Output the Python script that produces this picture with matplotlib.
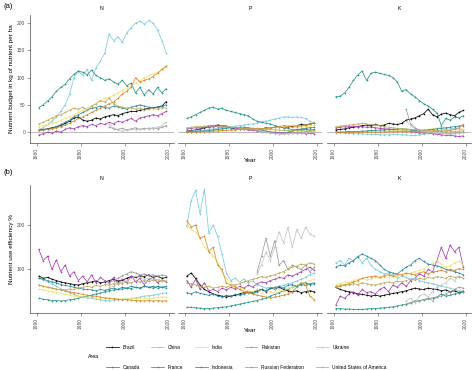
import numpy as np
import matplotlib
matplotlib.use("Agg")
import matplotlib.pyplot as plt
from matplotlib.lines import Line2D

plt.rcParams["font.family"] = ["Liberation Sans", "DejaVu Sans"]

# values every second year (1961, 1963, ... 2019)
years = np.arange(1961, 2021, 2)

countries = ["Brazil", "Canada", "China", "France", "India", "Indonesia",
             "Pakistan", "Russian Federation", "Ukraine", "United States of America"]
colors = {
    "Brazil": "#000000",
    "Canada": "#a83db0",
    "China": "#7ccadb",
    "France": "#23968a",
    "India": "#efe26b",
    "Indonesia": "#2b8aa0",
    "Pakistan": "#d9892b",
    "Russian Federation": "#9a9a9a",
    "Ukraine": "#c4c4c4",
    "United States of America": "#bfa95a",
}

# (a) nutrient budget, kg nutrient per ha  (Russia / Ukraine start 1993)
budget_n = {
    "Brazil": [4, 5, 6, 8, 10, 12, 16, 20, 26, 28, 22, 20, 22, 26, 24, 28, 30, 32, 30, 34, 36, 38, 38, 40, 42, 44, 45, 46, 48, 56],
    "Canada": [-5, -3, 0, -2, 2, 0, 5, 8, 6, 10, 12, 10, 14, 12, 16, 14, 18, 15, 20, 18, 22, 25, 20, 26, 28, 30, 32, 30, 34, 38],
    "China": [5, 8, 14, 20, 28, 38, 50, 70, 100, 112, 105, 115, 95, 118, 130, 145, 180, 168, 175, 165, 182, 192, 200, 204, 198, 205, 200, 188, 168, 145],
    "France": [45, 50, 57, 65, 75, 82, 88, 98, 106, 112, 110, 105, 114, 104, 100, 95, 98, 92, 88, 95, 85, 90, 72, 82, 68, 78, 70, 82, 72, 80],
    "India": [10, 12, 14, 16, 18, 22, 25, 28, 32, 36, 40, 45, 48, 52, 58, 62, 64, 68, 72, 76, 80, 85, 90, 95, 100, 104, 106, 110, 115, 120],
    "Indonesia": [3, 4, 5, 7, 10, 14, 18, 22, 28, 32, 36, 40, 44, 45, 48, 45, 44, 48, 46, 44, 42, 46, 48, 50, 48, 46, 44, 46, 48, 50],
    "Pakistan": [3, 4, 5, 6, 8, 10, 13, 16, 20, 25, 28, 32, 36, 40, 44, 48, 52, 55, 62, 70, 75, 82, 100, 92, 95, 98, 102, 108, 115, 122],
    "Russian Federation": [10, 6, 5, 7, 4, 6, 8, 5, 7, 6, 8, 6, 9, 12],
    "Ukraine": [15, 8, 4, 2, 3, 5, 4, 6, 5, 8, 6, 9, 12, 18],
    "United States of America": [15, 18, 22, 26, 30, 32, 36, 40, 44, 42, 46, 40, 48, 52, 58, 55, 62, 52, 48, 46, 44, 45, 42, 44, 40, 42, 44, 42, 45, 44],
}
budget_p = {
    "Brazil": [2, 3, 4, 6, 8, 10, 12, 13, 12, 11, 8, 6, 5, 6, 5, 6, 5, 6, 8, 7, 9, 10, 8, 10, 11, 12, 14, 13, 15, 17],
    "Canada": [6, 7, 8, 8, 9, 9, 10, 10, 9, 10, 8, 7, 6, 5, 4, 3, 2, 2, 1, 0, 0, -1, -1, -2, -1, -2, -2, -3, -2, -3],
    "China": [2, 2, 3, 3, 4, 5, 6, 7, 8, 9, 10, 11, 12, 13, 14, 15, 17, 19, 20, 22, 24, 26, 28, 28, 27, 28, 27, 25, 20, 16],
    "France": [25, 28, 32, 36, 40, 44, 46, 42, 44, 40, 38, 36, 34, 32, 30, 24, 20, 18, 16, 15, 12, 10, 8, 7, 4, 5, 4, 5, 4, 5],
    "India": [0, 0, 1, 1, 1, 2, 2, 2, 3, 3, 4, 4, 5, 5, 6, 6, 5, 6, 7, 7, 8, 9, 10, 11, 13, 12, 10, 10, 11, 13],
    "Indonesia": [1, 1, 1, 2, 2, 3, 4, 5, 6, 7, 8, 8, 9, 9, 8, 7, 6, 4, 2, 0, -2, -3, -2, 0, 2, 4, 6, 7, 8, 9],
    "Pakistan": [0, 0, 0, 1, 1, 1, 2, 2, 3, 3, 4, 4, 5, 5, 6, 6, 7, 6, 7, 8, 9, 10, 12, 11, 9, 10, 12, 13, 15, 16],
    "Russian Federation": [3, 1, 0, -1, -2, -2, -1, -2, -1, 0, 0, 1, 1, 2],
    "Ukraine": [5, 2, 0, -2, -3, -3, -4, -3, -2, -3, -2, -1, 0, 1],
    "United States of America": [8, 9, 10, 10, 11, 12, 12, 11, 12, 11, 9, 8, 8, 7, 7, 6, 6, 6, 5, 5, 4, 4, 3, 3, 2, 3, 3, 2, 3, 3],
}
budget_k = {
    "Brazil": [4, 5, 6, 8, 9, 10, 12, 13, 12, 14, 12, 13, 16, 15, 14, 16, 22, 24, 26, 30, 34, 42, 32, 28, 33, 35, 32, 30, 36, 40],
    "Canada": [8, 9, 10, 10, 11, 10, 10, 9, 9, 8, 7, 6, 6, 5, 4, 3, 2, 1, 0, -1, -2, -2, -3, -4, -5, -6, -6, -7, -8, -7],
    "China": [-1, -1, -2, -2, -3, -3, -3, -4, -4, -4, -5, -5, -5, -4, -4, -5, -5, -6, -6, -5, -4, -2, 0, 2, 4, 5, 6, 7, 5, 4],
    "France": [65, 66, 72, 82, 95, 105, 112, 95, 108, 110, 108, 106, 104, 100, 92, 75, 78, 70, 65, 58, 52, 48, 42, 35, 12, 25, 22, 28, 26, 30],
    "India": [0, 0, 0, 1, 1, 1, 1, 2, 2, 2, 2, 2, 3, 3, 3, 3, 2, 3, 3, 4, 4, 5, 6, 7, 9, 6, 4, 5, 5, 6],
    "Indonesia": [0, 0, 0, 1, 1, 1, 2, 2, 3, 3, 4, 4, 5, 5, 6, 6, 5, 4, 3, 2, 3, 4, 5, 6, 7, 8, 9, 10, 11, 12],
    "Pakistan": [0, 0, 0, 0, 0, 0, 0, 0, 0, 0, 0, 0, 1, 1, 1, 1, 1, 1, 1, 1, 1, 1, 2, 2, 2, 2, 3, 5, 8, 14],
    "Russian Federation": [42, 15, 8, 4, 2, 0, -1, -2, -3, -2, -3, -2, -1, 0],
    "Ukraine": [20, 12, 6, 3, 2, 1, 0, -1, -2, -3, -4, -3, -2, -1],
    "United States of America": [10, 11, 12, 13, 14, 15, 16, 15, 14, 13, 12, 10, 9, 8, 7, 6, 6, 5, 5, 4, 4, 3, 3, 2, 2, 2, 2, 1, 2, 2],
}

# (b) nutrient use efficiency, %
nue_n = {
    "Brazil": [85, 80, 82, 78, 75, 72, 70, 68, 66, 65, 68, 70, 72, 74, 70, 72, 75, 78, 74, 76, 80, 84, 82, 86, 84, 88, 82, 85, 80, 82],
    "Canada": [145, 120, 130, 100, 122, 95, 110, 85, 95, 75, 85, 72, 88, 70, 82, 75, 70, 82, 68, 78, 70, 86, 72, 80, 66, 78, 82, 70, 76, 72],
    "China": [80, 76, 72, 68, 62, 56, 52, 48, 44, 40, 38, 36, 35, 33, 32, 30, 30, 31, 32, 33, 34, 35, 36, 38, 40, 41, 42, 44, 46, 48],
    "France": [35, 33, 32, 30, 30, 29, 30, 32, 33, 35, 38, 40, 42, 45, 47, 50, 52, 54, 55, 56, 58, 57, 60, 58, 62, 60, 58, 62, 60, 58],
    "India": [55, 54, 52, 50, 48, 46, 44, 42, 40, 40, 38, 38, 37, 36, 36, 35, 34, 35, 34, 33, 34, 35, 34, 36, 35, 34, 36, 37, 38, 38],
    "Indonesia": [80, 78, 75, 72, 70, 66, 64, 62, 60, 58, 56, 55, 54, 52, 55, 53, 56, 58, 55, 60, 58, 62, 60, 58, 62, 60, 62, 58, 60, 62],
    "Pakistan": [65, 62, 60, 58, 56, 54, 52, 50, 48, 46, 44, 42, 40, 40, 38, 36, 35, 34, 33, 32, 32, 31, 30, 30, 29, 30, 29, 30, 29, 30],
    "Russian Federation": [70, 75, 80, 86, 90, 95, 92, 88, 90, 86, 88, 85, 88, 86],
    "Ukraine": [60, 62, 68, 72, 75, 80, 85, 82, 78, 80, 76, 78, 75, 74],
    "United States of America": [65, 62, 60, 58, 55, 55, 54, 56, 55, 58, 60, 62, 60, 64, 62, 66, 65, 68, 70, 68, 72, 70, 74, 72, 75, 73, 76, 74, 75, 74],
}
nue_p = {
    "Brazil": [85, 92, 80, 65, 55, 50, 45, 42, 40, 38, 40, 42, 45, 48, 50, 48, 52, 55, 50, 58, 56, 60, 55, 52, 50, 52, 48, 50, 52, 50],
    "Canada": [75, 60, 78, 55, 70, 52, 55, 50, 58, 54, 60, 56, 62, 58, 65, 60, 68, 72, 70, 75, 78, 82, 80, 88, 85, 90, 95, 100, 105, 98],
    "China": [197, 255, 278, 225, 280, 182, 200, 175, 135, 92, 75, 80, 72, 78, 70, 74, 66, 62, 58, 60, 56, 62, 64, 68, 70, 74, 78, 82, 88, 92],
    "France": [15, 15, 14, 13, 12, 12, 13, 14, 15, 16, 18, 20, 22, 24, 26, 28, 30, 33, 36, 40, 44, 48, 52, 56, 60, 62, 66, 64, 68, 70],
    "India": [200, 190, 185, 170, 150, 140, 130, 115, 95, 80, 70, 62, 58, 55, 52, 50, 55, 48, 52, 50, 48, 55, 52, 58, 60, 65, 70, 72, 75, 78],
    "Indonesia": [48, 45, 50, 46, 44, 42, 45, 40, 38, 42, 40, 44, 42, 45, 48, 46, 50, 55, 52, 58, 60, 62, 58, 64, 66, 62, 68, 70, 66, 68],
    "Pakistan": [210, 195, 200, 170, 175, 140, 150, 110, 100, 70, 65, 60, 55, 50, 48, 45, 42, 40, 38, 36, 38, 40, 42, 45, 50, 60, 70, 65, 40, 32],
    "Russian Federation": [95, 130, 170, 130, 165, 110, 120, 100, 110, 105, 100, 110, 95, 105],
    "Ukraine": [90, 110, 140, 120, 150, 185, 160, 195, 150, 190, 170, 195, 180, 175],
    "United States of America": [70, 68, 65, 62, 60, 62, 58, 60, 62, 60, 64, 66, 68, 72, 75, 78, 80, 84, 82, 86, 88, 92, 95, 100, 105, 108, 112, 110, 115, 112],
}
nue_k = {
    "Brazil": [60, 55, 52, 50, 48, 45, 44, 42, 40, 42, 40, 42, 44, 46, 48, 50, 52, 55, 58, 56, 55, 58, 56, 55, 52, 54, 50, 52, 48, 50],
    "Canada": [20, 40, 35, 45, 50, 42, 55, 48, 50, 45, 55, 60, 50, 65, 60, 70, 62, 75, 80, 90, 85, 100, 95, 120, 150, 125, 155, 140, 150, 105],
    "China": [115, 120, 110, 125, 120, 130, 115, 125, 110, 100, 95, 90, 92, 88, 80, 85, 82, 78, 80, 75, 72, 70, 68, 65, 62, 60, 58, 55, 52, 50],
    "France": [12, 12, 11, 11, 10, 10, 10, 11, 12, 12, 13, 14, 15, 16, 18, 20, 22, 25, 28, 30, 32, 34, 36, 38, 45, 40, 42, 45, 48, 52],
    "India": [66, 68, 72, 70, 75, 78, 80, 76, 78, 82, 80, 84, 82, 86, 85, 88, 90, 92, 95, 98, 100, 110, 115, 120, 112, 105, 108, 115, 118, 110],
    "Indonesia": [105, 110, 108, 115, 120, 128, 135, 130, 125, 120, 110, 100, 95, 92, 90, 98, 105, 110, 120, 125, 118, 112, 110, 108, 105, 100, 98, 95, 92, 88],
    "Pakistan": [60, 62, 65, 68, 72, 75, 80, 82, 84, 85, 82, 86, 88, 85, 90, 88, 92, 90, 88, 92, 95, 90, 94, 96, 98, 95, 100, 98, 102, 100],
    "Russian Federation": [20, 25, 30, 28, 32, 35, 30, 38, 40, 45, 50, 55, 60, 58],
    "Ukraine": [30, 35, 25, 40, 45, 38, 50, 60, 65, 70, 80, 75, 85, 80],
    "United States of America": [62, 64, 66, 65, 68, 66, 70, 68, 66, 65, 68, 70, 72, 70, 74, 72, 75, 78, 76, 80, 78, 82, 80, 84, 82, 80, 85, 82, 84, 80],
}

nutrients = ["N", "P", "K"]
x_ticks = [1960, 1980, 2000, 2020]
grey = "#4d4d4d"

W, H = 474, 370
fig = plt.figure(figsize=(W / 100, H / 100), dpi=100)

col_left = [30, 178, 327]
col_w = 144


def draw_row(datasets, top, bottom, ylim, yticks, ylabel):
    for i, (nut, data) in enumerate(zip(nutrients, datasets)):
        ax = fig.add_axes([col_left[i] / W, 1 - bottom / H, col_w / W, (bottom - top) / H])
        for c in countries:
            v = data[c]
            ax.plot(years[-len(v):], v, color=colors[c], lw=0.55,
                    marker="o", ms=1.2, mew=0)
        ax.set_xlim(1957, 2022.5)
        ax.set_ylim(*ylim)
        ax.set_xticks(x_ticks)
        ax.set_xticklabels([str(t) for t in x_ticks], rotation=90)
        ax.set_yticks(yticks)
        ax.set_title(nut, fontsize=3.8, pad=3.5)
        for s in ["top", "right"]:
            ax.spines[s].set_visible(False)
        ax.spines["bottom"].set_color(grey)
        ax.spines["bottom"].set_linewidth(0.5)
        ax.spines["left"].set_color(grey)
        ax.spines["left"].set_linewidth(0.5)
        ax.tick_params(length=2, width=0.4, color=grey, labelcolor=grey,
                       labelsize=3.5, pad=1.5)
        if i > 0:
            ax.spines["left"].set_visible(False)
            ax.tick_params(left=False, labelleft=False)
        if ylim[0] < 0:
            ax.axhline(0, color="#888888", lw=0.4, zorder=0)
    fig.text(12 / W, 1 - (top + bottom) / 2 / H, ylabel, rotation=90,
             ha="center", va="center", fontsize=4.6)


draw_row([budget_n, budget_p, budget_k], 15, 143, (-20, 215),
         [0, 50, 100, 150, 200], "Nutrient budget in kg of nutrient per ha")
draw_row([nue_n, nue_p, nue_k], 185, 313, (2, 290),
         [100, 200], "Nutrient use efficiency %")

fig.text(250 / W, 1 - 161 / H, "Year", ha="center", va="center", fontsize=4.5)
fig.text(250 / W, 1 - 331 / H, "Year", ha="center", va="center", fontsize=4.5)
fig.text(3 / W, 1 - 6 / H, "(a)", ha="left", va="center", fontsize=5.5)
fig.text(3 / W, 1 - 173 / H, "(b)", ha="left", va="center", fontsize=5.5)

handles = [Line2D([0], [0], color=colors[c], lw=0.55, marker="o", ms=1.2, mew=0)
           for c in countries]
fig.legend(handles, countries, ncol=5, loc="upper left",
           bbox_to_anchor=(104 / W, 1 - 343 / H), frameon=False, fontsize=3.5,
           handlelength=2.6, handletextpad=0.8, columnspacing=2.4,
           labelspacing=3.0, borderaxespad=0)
fig.text(88 / W, 1 - 357 / H, "Area", ha="left", va="center", fontsize=3.8)

fig.savefig("out.png", dpi=100)
